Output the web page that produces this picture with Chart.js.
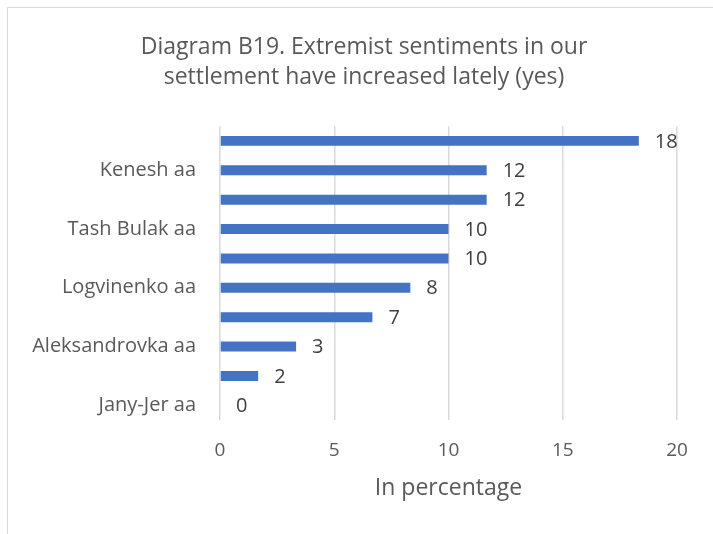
<!DOCTYPE html>
<html>
<head>
<meta charset="utf-8">
<script src="https://cdn.jsdelivr.net/npm/chart.js@4"></script>
<style>
  html, body { margin: 0; padding: 0; background: #ffffff; }
  #wrap { position: relative; width: 713px; height: 534px; overflow: hidden; }
  #frame { position: absolute; left: 7px; top: 7px; width: 800px; height: 600px;
           border-top: 1.5px solid #d9d9d9; border-left: 1.5px solid #d9d9d9; }
  canvas { position: absolute; left: 0; top: 0; }
</style>
</head>
<body>
<div id="wrap">
  <div id="frame"></div>
  <canvas id="c" width="713" height="534"></canvas>
</div>
<script>
const titleLines = ['Diagram B19. Extremist sentiments in our', 'settlement have increased lately (yes)'];
const categories = ['', 'Kenesh aa', '', 'Tash Bulak aa', '', 'Logvinenko aa', '', 'Aleksandrovka aa', '', 'Jany-Jer aa'];
const values = [18.33, 11.67, 11.67, 10, 10, 8.33, 6.67, 3.33, 1.67, 0];
const xTicks = [0, 5, 10, 15, 20];
const xTitle = 'In percentage';

const FONT = "'Open Sans', 'Noto Sans', sans-serif";
const GREY = '#595959';

const valueLabels = {
  id: 'valueLabels',
  afterDatasetsDraw(chart) {
    const ctx = chart.ctx;
    const meta = chart.getDatasetMeta(0);
    ctx.save();
    ctx.font = '20px ' + FONT;
    ctx.fillStyle = '#404040';
    ctx.textAlign = 'left';
    ctx.textBaseline = 'middle';
    meta.data.forEach((bar, i) => {
      ctx.fillText(String(Math.round(values[i])), bar.x + 16, bar.y + 1);
    });
    ctx.restore();
  }
};

new Chart(document.getElementById('c'), {
  type: 'bar',
  data: {
    labels: categories,
    datasets: [{
      data: values,
      backgroundColor: '#4472c4',
      borderWidth: 0,
      categoryPercentage: 1,
      barPercentage: 0.34
    }]
  },
  options: {
    indexAxis: 'y',
    responsive: false,
    animation: false,
    devicePixelRatio: 1,
    layout: { padding: { left: 51, right: 36, top: 0, bottom: 0 } },
    plugins: {
      legend: { display: false },
      tooltip: { enabled: false },
      title: {
        display: true,
        text: titleLines,
        color: GREY,
        font: { family: FONT, size: 23, weight: 'normal', lineHeight: 1.33 },
        padding: { top: 32, bottom: 33 }
      }
    },
    scales: {
      x: {
        min: 0,
        max: 20,
        afterBuildTicks(scale) { scale.ticks = xTicks.map(v => ({ value: v })); },
        afterFit(scale) { scale.height = 114; },
        ticks: { color: GREY, font: { family: FONT, size: 19 }, padding: 19 },
        grid: { color: '#d9d9d9', lineWidth: 1.5, drawTicks: false },
        border: { display: false },
        title: {
          display: true,
          text: xTitle,
          color: GREY,
          font: { family: FONT, size: 23 },
          padding: { top: 0, bottom: 32 }
        }
      },
      y: {
        afterFit(scale) {
          scale.width = 169;
          // let long category labels extend left of the axis box without clipping
          scale._computeLabelArea = () => undefined;
        },
        ticks: { color: GREY, font: { family: FONT, size: 20 }, padding: 24, autoSkip: false },
        grid: { display: false, drawTicks: false },
        border: { display: false }
      }
    }
  },
  plugins: [valueLabels]
});
</script>
</body>
</html>
